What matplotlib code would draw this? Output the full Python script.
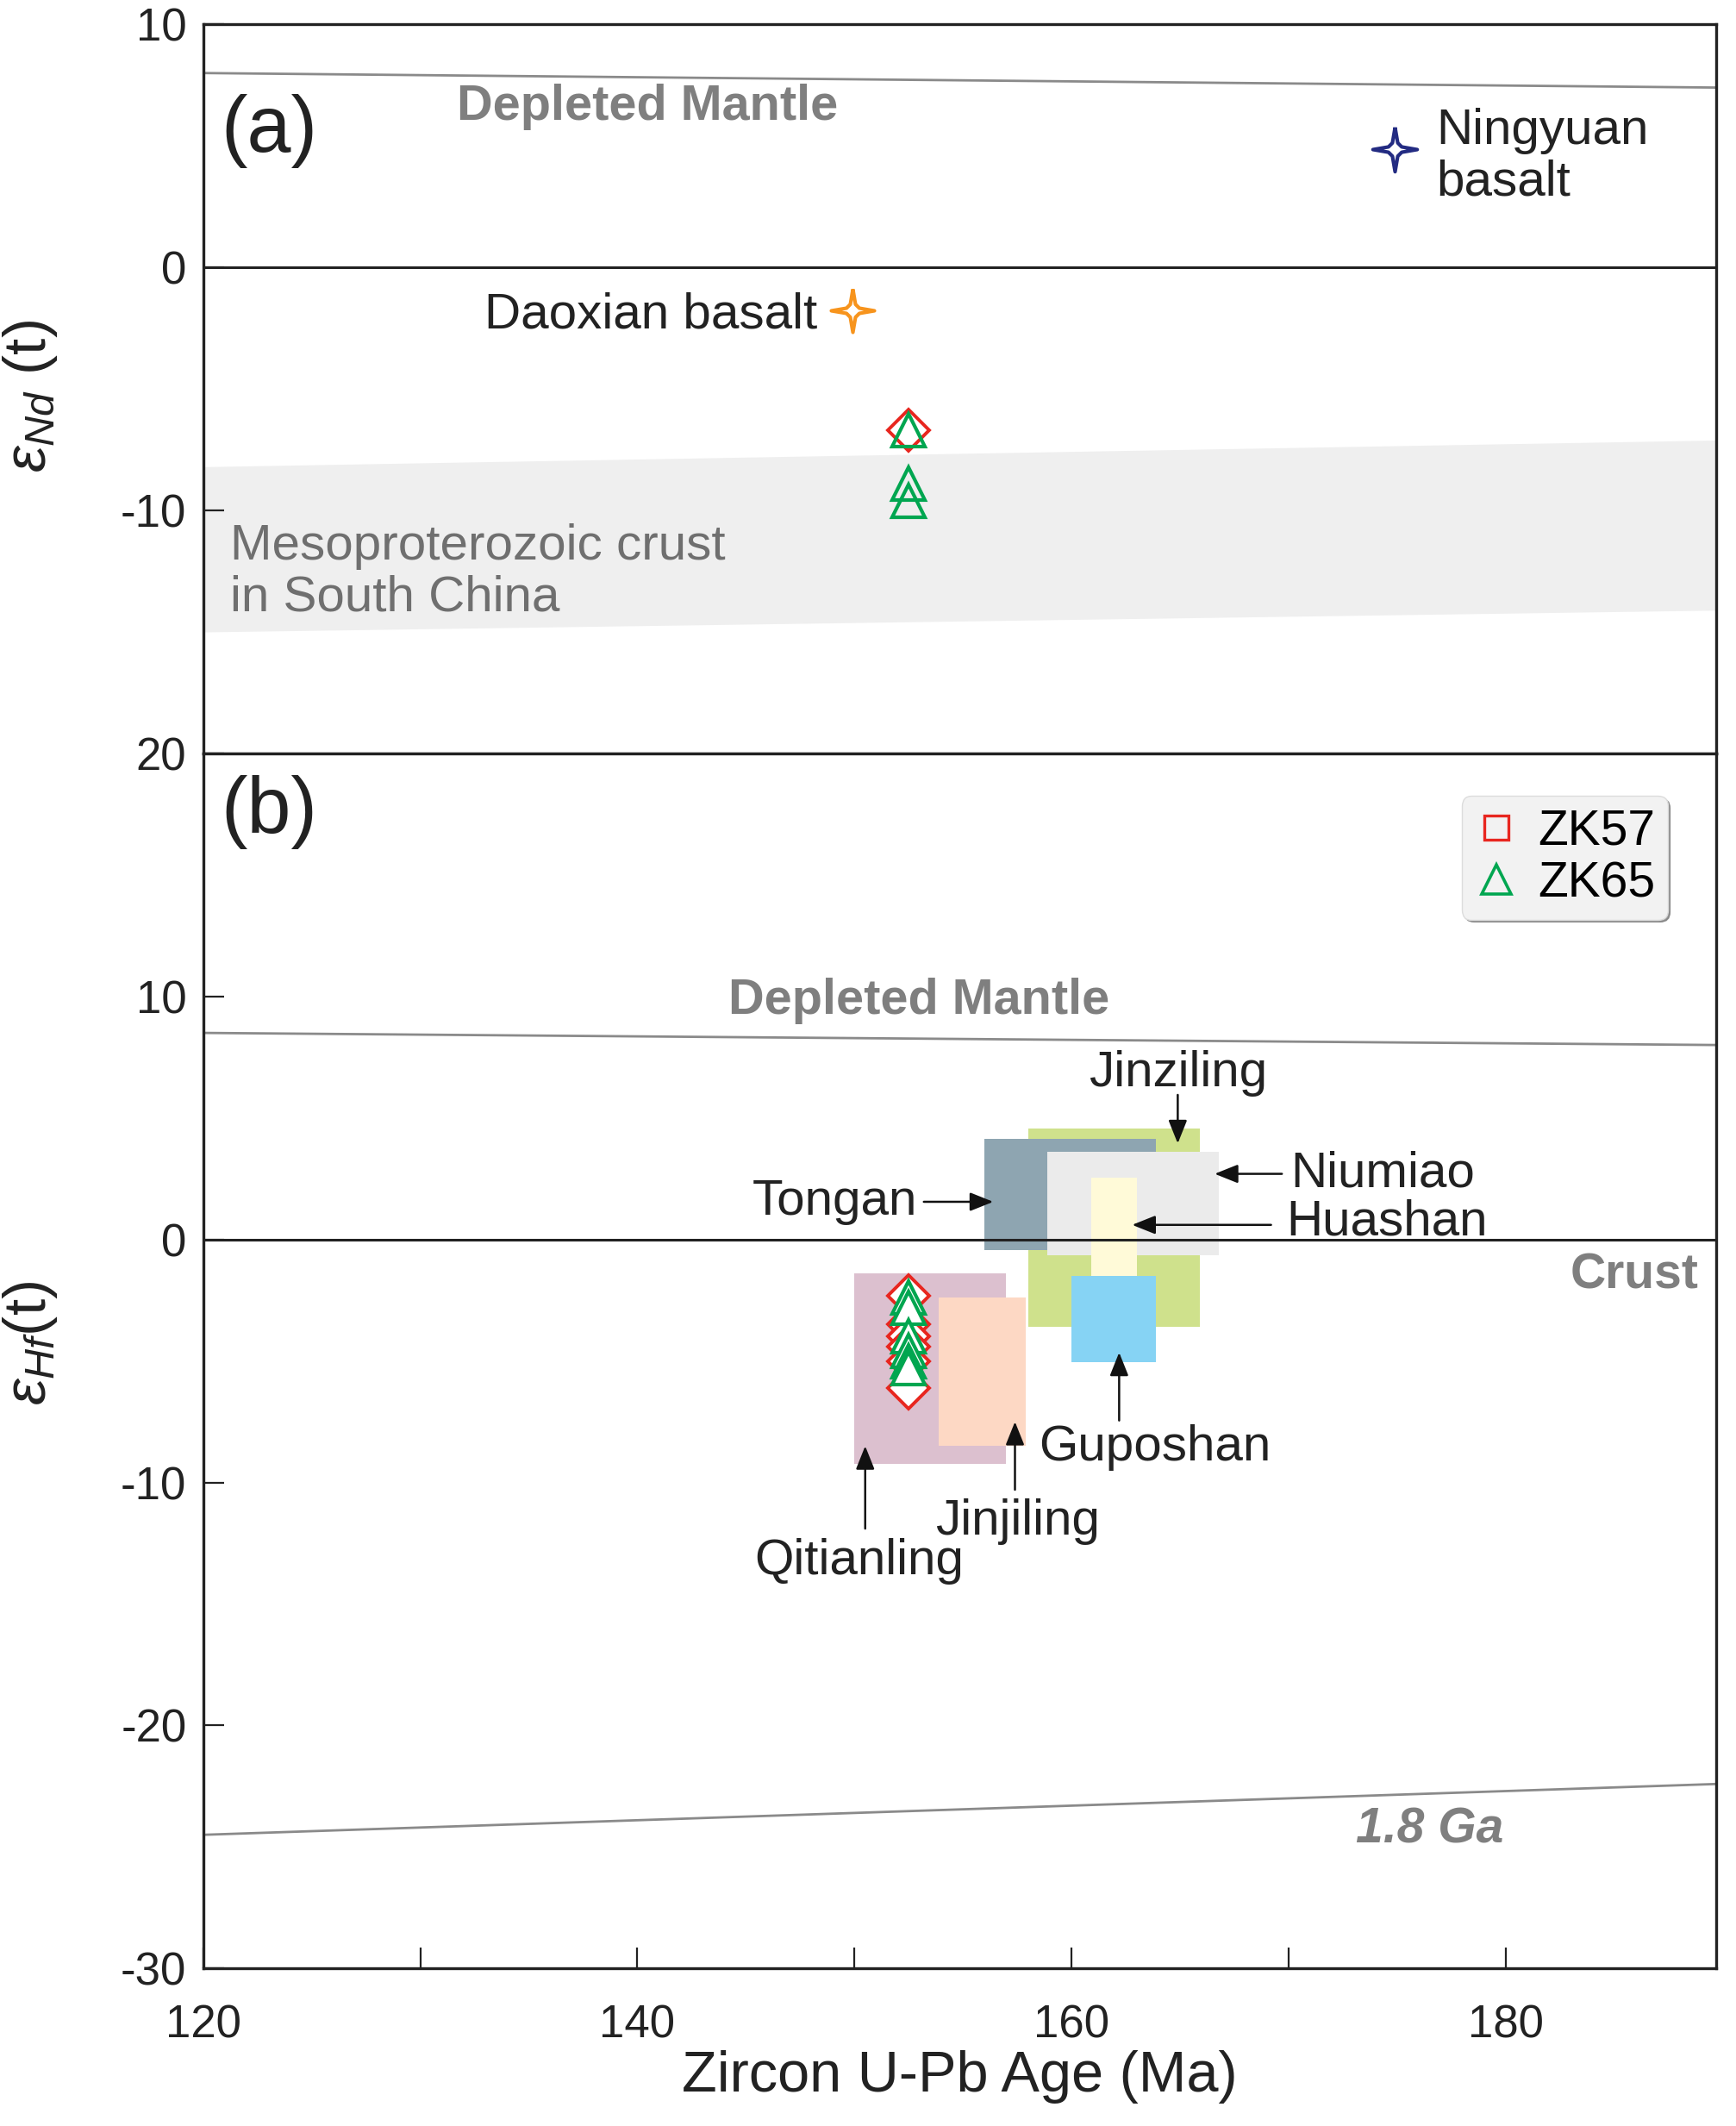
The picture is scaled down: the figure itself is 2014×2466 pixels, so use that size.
import matplotlib
matplotlib.use("Agg")
import matplotlib.pyplot as plt
from matplotlib.patches import Rectangle

plt.rcParams['font.family'] = ['Liberation Sans', 'DejaVu Sans']
plt.rcParams['mathtext.fontset'] = 'custom'
plt.rcParams['mathtext.rm'] = 'Liberation Sans'
plt.rcParams['mathtext.it'] = 'Liberation Sans:italic'
plt.rcParams['mathtext.bf'] = 'Liberation Sans:bold'

# ---------------- data ----------------
# Panel (a): eNd(t)
dm_nd_age = [120, 190]
dm_nd_val = [8.0, 7.4]
meso_age = [120, 190]
meso_top = [-8.2, -7.1]
meso_bot = [-15.0, -14.1]
daoxian_age, daoxian_nd = 149.9, -1.75
ningyuan_age, ningyuan_nd = 174.9, 4.86
zk57_nd_age = [152.5]
zk57_nd = [-6.7]
zk65_nd_age = [152.5, 152.5, 152.5]
zk65_nd = [-6.7, -8.9, -9.6]

# Panel (b): eHf(t)
dm_hf_age = [120, 190]
dm_hf_val = [8.5, 8.0]
ga18_age = [120, 190]
ga18_val = [-24.5, -22.4]
zk57_hf_age = [152.5] * 6
zk57_hf = [-2.3, -3.5, -4.0, -4.4, -5.0, -6.1]
zk65_hf_age = [152.5] * 6
zk65_hf = [-2.4, -2.8, -4.0, -4.6, -5.0, -5.3]

# granite fields: name, age min, age max, eHf min, eHf max (drawing order)
field_names = ['Qitianling', 'Jinjiling', 'Jinziling', 'Tongan', 'Niumiao', 'Huashan', 'Guposhan']
field_age_min = [150.0, 153.9, 158.0, 156.0, 158.9, 160.9, 160.0]
field_age_max = [157.0, 157.9, 165.9, 163.9, 166.8, 163.0, 163.9]
field_hf_min = [-9.25, -8.5, -3.6, -0.45, -0.65, -1.5, -5.05]
field_hf_max = [-1.4, -2.4, 4.55, 4.15, 3.6, 2.55, -1.5]
field_colors = ['#dcc0cf', '#fdd8c4', '#cfe18c', '#8ea5b1', '#ebebeb', '#fffad8', '#86d3f4']

x_ticks = [120, 130, 140, 150, 160, 170, 180]
x_ticklabels = ['120', '', '140', '', '160', '', '180']

# ---------------- figure ----------------
fig = plt.figure(figsize=(20.15, 24.66), dpi=100)
L, R = 0.117, 0.988
ya0, ya1 = 0.6456, 0.9885
yb0, yb1 = 0.0741, 0.6456
axa = fig.add_axes([L, ya0, R - L, ya1 - ya0])
axb = fig.add_axes([L, yb0, R - L, yb1 - yb0])

red = '#e8261f'
green = '#00a650'
grey_txt = '#7f7f7f'

# concave four-pointed star marker shape
star = [(0, 1), (0.12, 0.3), (0.3, 0.12), (1, 0), (0.3, -0.12), (0.12, -0.3), (0, -1),
        (-0.12, -0.3), (-0.3, -0.12), (-1, 0), (-0.3, 0.12), (-0.12, 0.3), (0, 1)]

for ax in (axa, axb):
    ax.set_xlim(120, 189.7)
    for s in ax.spines.values():
        s.set_linewidth(2.4)
        s.set_color('#222222')
    ax.tick_params(direction='in', length=17, width=1.6, labelsize=38,
                   colors='#222222', pad=14)
    ax.set_xticks(x_ticks)

# ---- panel a ----
axa.set_ylim(-20, 10)
axa.set_yticks([10, 0, -10])
axa.set_yticklabels(['10', '0', '-10'])
axa.tick_params(axis='x', labelbottom=False, length=0)
axa.fill_between(meso_age, meso_bot, meso_top, color='#efefef', lw=0, zorder=1)
axa.plot(dm_nd_age, dm_nd_val, color='#8a8a8a', lw=2.0, zorder=2)
axa.axhline(0, color='#222222', lw=2.2, zorder=2)
axa.plot(zk57_nd_age, zk57_nd, ls='none', marker='D', ms=24, mfc='white', mec=red, mew=2.8, zorder=4)
axa.plot(zk65_nd_age, zk65_nd, ls='none', marker='^', ms=27, mfc='none', mec=green, mew=3.0, zorder=5)
axa.plot([daoxian_age], [daoxian_nd], ls='none', marker=star, ms=36, mfc='white', mec='#f7941d', mew=3.0, zorder=5)
axa.plot([ningyuan_age], [ningyuan_nd], ls='none', marker=star, ms=37, mfc='white', mec='#232b82', mew=3.0, zorder=5)

axa.text(120.8, 5.6, '(a)', fontsize=66, va='center', ha='left', color='#222222')
axa.text(131.7, 6.6, 'Depleted Mantle', fontsize=41.5, fontweight='bold', color=grey_txt, va='center')
axa.text(148.3, -1.95, 'Daoxian basalt', fontsize=42, va='center', ha='right', color='#222222')
axa.text(176.8, 4.55, 'Ningyuan\nbasalt', fontsize=42, va='center', ha='left', color='#222222', linespacing=1.12)
axa.text(121.25, -12.55, 'Mesoproterozoic crust\nin South China', fontsize=42, va='center', ha='left',
         color='#6f6f6f', linespacing=1.12)
axa.set_ylabel(r'$\varepsilon_{Nd}$ (t)', fontsize=50, color='#222222')
axa.yaxis.set_label_coords(-0.095, 0.49)

# ---- panel b ----
axb.set_ylim(-30, 20)
axb.set_yticks([20, 10, 0, -10, -20, -30])
axb.set_yticklabels(['20', '10', '0', '-10', '-20', '-30'])
axb.set_xticklabels(x_ticklabels)
axb.tick_params(axis='x', pad=30)
for i in range(len(field_names)):
    axb.add_patch(Rectangle((field_age_min[i], field_hf_min[i]),
                            field_age_max[i] - field_age_min[i],
                            field_hf_max[i] - field_hf_min[i],
                            facecolor=field_colors[i], edgecolor='none', zorder=1 + i * 0.01))
axb.plot(dm_hf_age, dm_hf_val, color='#8a8a8a', lw=2.0, zorder=2)
axb.plot(ga18_age, ga18_val, color='#8a8a8a', lw=2.0, zorder=2)
axb.axhline(0, color='#222222', lw=2.2, zorder=2)
axb.plot(zk57_hf_age, zk57_hf, ls='none', marker='D', ms=24, mfc='white', mec=red, mew=2.8, zorder=4, label='ZK57')
axb.plot(zk65_hf_age, zk65_hf, ls='none', marker='^', ms=27, mfc='white', mec=green, mew=3.0, zorder=5, label='ZK65')

h1, = axb.plot([], [], ls='none', marker='s', ms=20, mfc='none', mec=red, mew=2.4, label='ZK57')
h2, = axb.plot([], [], ls='none', marker='^', ms=24, mfc='none', mec=green, mew=2.6, label='ZK65')
leg = axb.legend(handles=[h1, h2], loc='upper right', bbox_to_anchor=(0.968, 0.965),
                 fontsize=41, frameon=True, fancybox=True, shadow={'color': '#7a7a7a', 'alpha': 0.8},
                 handlelength=0.9, handletextpad=0.4, borderpad=0.25, labelspacing=0.12,
                 borderaxespad=0.0)
leg.get_frame().set_facecolor('#f2f2f2')
leg.get_frame().set_edgecolor('#dcdcdc')
leg.get_frame().set_alpha(1.0)

axb.text(120.8, 17.6, '(b)', fontsize=66, va='center', ha='left', color='#222222')
axb.text(144.2, 9.8, 'Depleted Mantle', fontsize=41.5, fontweight='bold', color=grey_txt, va='center')
axb.text(188.9, -1.5, 'Crust', fontsize=41, fontweight='bold', color=grey_txt, va='center', ha='right')
axb.text(173.1, -24.3, '1.8 Ga', fontsize=41, fontweight='bold', fontstyle='italic', color=grey_txt, va='center')

aprops = dict(arrowstyle='-|>,head_length=0.55,head_width=0.22', color='#111111', lw=1.8,
              mutation_scale=30, shrinkA=0, shrinkB=0)
lbl = dict(fontsize=42, color='#222222')
axb.annotate('', xy=(156.4, 1.55), xytext=(153.2, 1.55), arrowprops=aprops)
axb.text(152.9, 1.55, 'Tongan', ha='right', va='center', **lbl)
axb.annotate('', xy=(166.6, 2.7), xytext=(169.7, 2.7), arrowprops=aprops)
axb.text(170.1, 2.7, 'Niumiao', ha='left', va='center', **lbl)
axb.annotate('', xy=(162.8, 0.6), xytext=(169.2, 0.6), arrowprops=aprops)
axb.text(169.9, 0.7, 'Huashan', ha='left', va='center', **lbl)
axb.annotate('', xy=(164.9, 3.95), xytext=(164.9, 5.95), arrowprops=aprops)
axb.text(164.9, 6.85, 'Jinziling', ha='center', va='center', **lbl)
axb.annotate('', xy=(162.2, -4.65), xytext=(162.2, -7.45), arrowprops=aprops)
axb.text(163.85, -8.55, 'Guposhan', ha='center', va='center', **lbl)
axb.annotate('', xy=(157.4, -7.5), xytext=(157.4, -10.3), arrowprops=aprops)
axb.text(157.5, -11.6, 'Jinjiling', ha='center', va='center', **lbl)
axb.annotate('', xy=(150.5, -8.5), xytext=(150.5, -11.9), arrowprops=aprops)
axb.text(150.2, -13.25, 'Qitianling', ha='center', va='center', **lbl)

axb.set_ylabel(r'$\varepsilon_{Hf}$(t)', fontsize=50, color='#222222')
axb.yaxis.set_label_coords(-0.095, 0.515)
axb.set_xlabel('Zircon U-Pb Age (Ma)', fontsize=48, color='#222222', labelpad=2)

fig.savefig('out.png', dpi=100, facecolor='white')
